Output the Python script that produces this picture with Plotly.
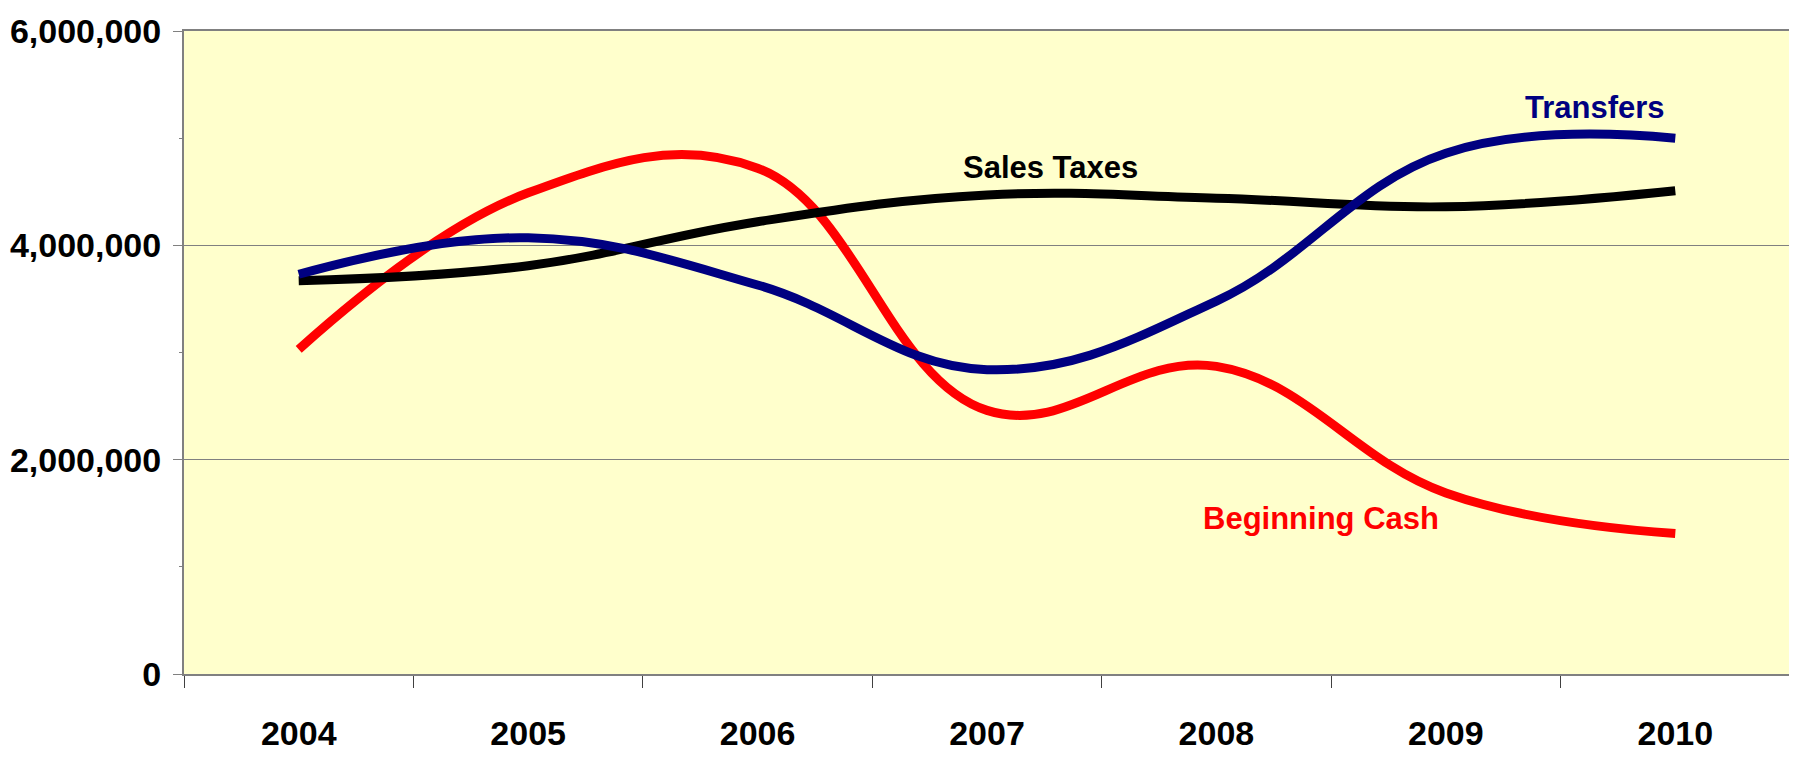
import plotly.graph_objects as go

years = ["2004", "2005", "2006", "2007", "2008", "2009", "2010"]

beginning_cash = [3030000, 4490000, 4720000, 2460000, 2870000, 1690000, 1310000]
sales_taxes = [3670000, 3810000, 4220000, 4470000, 4440000, 4360000, 4510000]
transfers = [3730000, 4070000, 3630000, 2840000, 3480000, 4860000, 5000000]

y_ticks = [0, 2000000, 4000000, 6000000]
y_tick_labels = ["0", "2,000,000", "4,000,000", "6,000,000"]

# series drawn bottom to top: red, black, blue
series = [
    ("Beginning Cash", beginning_cash, "#FF0000"),
    ("Sales Taxes", sales_taxes, "#000000"),
    ("Transfers", transfers, "#000080"),
]

fig = go.Figure()

for name, values, color in series:
    fig.add_trace(
        go.Scatter(
            x=years,
            y=values,
            mode="lines",
            name=name,
            line=dict(color=color, width=9, shape="spline", smoothing=1.15),
        )
    )

# in-chart series labels
labels = [
    ("Transfers", 5.65, 5290000, "#000080"),
    ("Sales Taxes", 3.275, 4730000, "#000000"),
    ("Beginning Cash", 4.456, 1450000, "#FF0000"),
]
for text, x, y, color in labels:
    fig.add_annotation(
        x=x,
        y=y,
        xref="x",
        yref="y",
        text=text,
        showarrow=False,
        font=dict(family="Liberation Sans, Arial, sans-serif", size=31,
                  color=color, weight="bold"),
        xanchor="center",
        yanchor="middle",
    )

# page body keeps its default 8px margin, so the figure is shifted by 8px
fig.update_layout(
    width=1789,
    height=749,
    paper_bgcolor="#FFFFFF",
    plot_bgcolor="#FFFFCC",
    showlegend=False,
    margin=dict(l=176, r=7, t=23, b=83),
    font=dict(family="Liberation Sans, Arial, sans-serif", color="#000000"),
    xaxis=dict(
        type="category",
        range=[-0.5, 6.5],
        automargin=False,
        tickson="boundaries",
        ticks="outside",
        ticklen=12,
        tickcolor="#404040",
        tickwidth=1,
        showgrid=False,
        showline=True,
        linecolor="#808080",
        linewidth=2,
        mirror=True,
        tickfont=dict(size=34, weight="bold", color="#000000"),
        ticklabelstandoff=28,
    ),
    yaxis=dict(
        range=[0, 6000000],
        automargin=False,
        tickvals=y_ticks,
        ticktext=y_tick_labels,
        ticks="outside",
        ticklen=9,
        tickcolor="#808080",
        tickwidth=1,
        showgrid=True,
        gridcolor="#808080",
        gridwidth=1,
        zeroline=False,
        showline=True,
        linecolor="#808080",
        linewidth=2,
        mirror=True,
        tickfont=dict(size=34, weight="bold", color="#000000"),
        ticklabelstandoff=5,
        minor=dict(dtick=1000000, ticks="outside", ticklen=3,
                   tickcolor="#808080", showgrid=False),
    ),
)

fig.write_html("out.html")
